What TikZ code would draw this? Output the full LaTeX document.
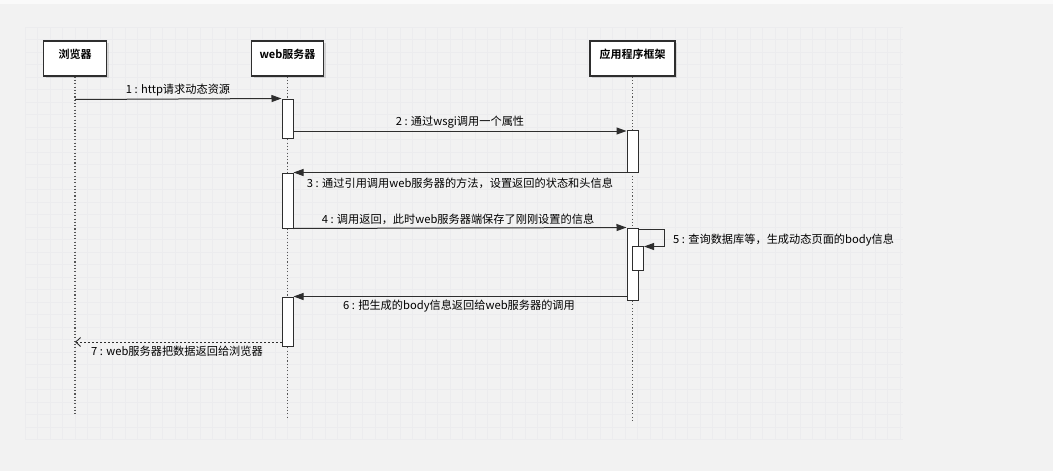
\documentclass[tikz,border=0pt]{standalone}
\usepackage{fontspec}
\setmainfont{Noto Sans CJK SC}
\newfontfamily\cjkbold{Noto Sans CJK SC Bold}
\usetikzlibrary{arrows.meta,shadows}
\definecolor{bg}{HTML}{F2F2F2}
\definecolor{gridc}{HTML}{ECECEE}
\definecolor{ink}{HTML}{2E2E2E}
\definecolor{lifec}{HTML}{555555}
\tikzset{
  lane/.style={draw=ink, line width=1.3pt, fill=white, minimum width=#1, minimum height=35pt,
    inner sep=0pt, drop shadow={shadow xshift=2pt, shadow yshift=-2pt, opacity=0.25}},
  headtext/.style={font=\cjkbold\fontsize{11}{12}\selectfont, text=black},
  lifeline/.style={draw=lifec, line width=1.1pt, dash pattern=on 1.1pt off 2.2pt},
  actbox/.style={draw=ink, line width=1pt, fill=white, minimum width=11pt, minimum height=#1, inner sep=0pt},
  msg/.style={draw=ink, line width=1pt, -{Triangle[length=10pt,width=7pt]}},
  retmsg/.style={draw=ink, line width=0.9pt, dash pattern=on 2pt off 2pt, -{Straight Barb[length=5pt,width=9pt]}},
  lbl/.style={font=\fontsize{11.2}{12}\selectfont, text=black, inner sep=0pt}
}
\begin{document}
\begin{tikzpicture}[x=1pt,y=-1pt]
\useasboundingbox (0,0) rectangle (1053,471);
\fill[bg] (0,0) rectangle (1053,471);
\fill[white!60!bg] (0,0) rectangle (1053,4);
% faint grid
\foreach \i in {0,...,70} {\draw[gridc, line width=0.3pt] (25+12.5*\i,27) -- (25+12.5*\i,440);}
\foreach \j in {0,...,33} {\draw[gridc, line width=0.3pt] (25,27+12.5*\j) -- (903,27+12.5*\j);}

% lane heads
\node[lane=63pt] (b) at (75,58.5) {};
\node[lane=72pt] (w) at (287.5,58.5) {};
\node[lane=85pt] (f) at (632.5,58.5) {};
\node[headtext, anchor=north] (bt) at (b.north) [yshift=-5pt] {浏览器};
\node[headtext, anchor=north] (wt) at (w.north) [yshift=-5pt] {web服务器};
\node[headtext, anchor=north] (ft) at (f.north) [yshift=-5pt] {应用程序框架};

% lifeline ends
\coordinate (be) at (75,415);
\coordinate (we) at (287.5,418);
\coordinate (fe) at (632.5,421);
\draw[lifeline] (b.south) -- (be);
\draw[lifeline] (w.south) -- (we);
\draw[lifeline] (f.south) -- (fe);

% activations
\node[actbox=39pt] (w1) at (287.5,118.5) {};
\node[actbox=42pt] (f1) at (632.5,151) {};
\node[actbox=55pt] (w2) at (287.5,200.5) {};
\node[actbox=72pt] (f2) at (632.5,264) {};
\node[actbox=24pt] (f3) at (638,258) {};
\node[actbox=49pt] (w3) at (287.5,321.5) {};

% messages
\coordinate (s1) at (75,99.5);
\draw[msg] (s1) -- (w1.north west);
\node[lbl] (l1) at (178,90) {1 : http请求动态资源};

\draw[msg] (w1.east |- 0,131) -- (f1.west |- 0,131);
\node[lbl] (l2) at (460,122.5) {2 : 通过wsgi调用一个属性};

\draw[msg] (f1.south west) -- (w2.north east);
\node[lbl] (l3) at (460,183) {3 : 通过引用调用web服务器的方法，设置返回的状态和头信息};

\draw[msg] (w2.south east) -- (f2.north west);
\node[lbl] (l4) at (458,219) {4 : 调用返回，此时web服务器端保存了刚刚设置的信息};

\coordinate (c5a) at (664,229.5);
\coordinate (c5b) at (664,246.5);
\draw[msg] (f2.east |- c5a) -- (c5a) -- (c5b) -- (f3.east |- c5b);
\node[lbl, anchor=west] (l5) at (673,240) {5 : 查询数据库等，生成动态页面的body信息};

\draw[msg] (f2.west |- w3.north) -- (w3.north east);
\node[lbl] (l6) at (459,306) {6 : 把生成的body信息返回给web服务器的调用};

\coordinate (e7) at (75,342);
\draw[retmsg] (w3.west |- e7) -- (e7);
\node[lbl] (l7) at (177,351.5) {7 : web服务器把数据返回给浏览器};
\end{tikzpicture}
\end{document}
